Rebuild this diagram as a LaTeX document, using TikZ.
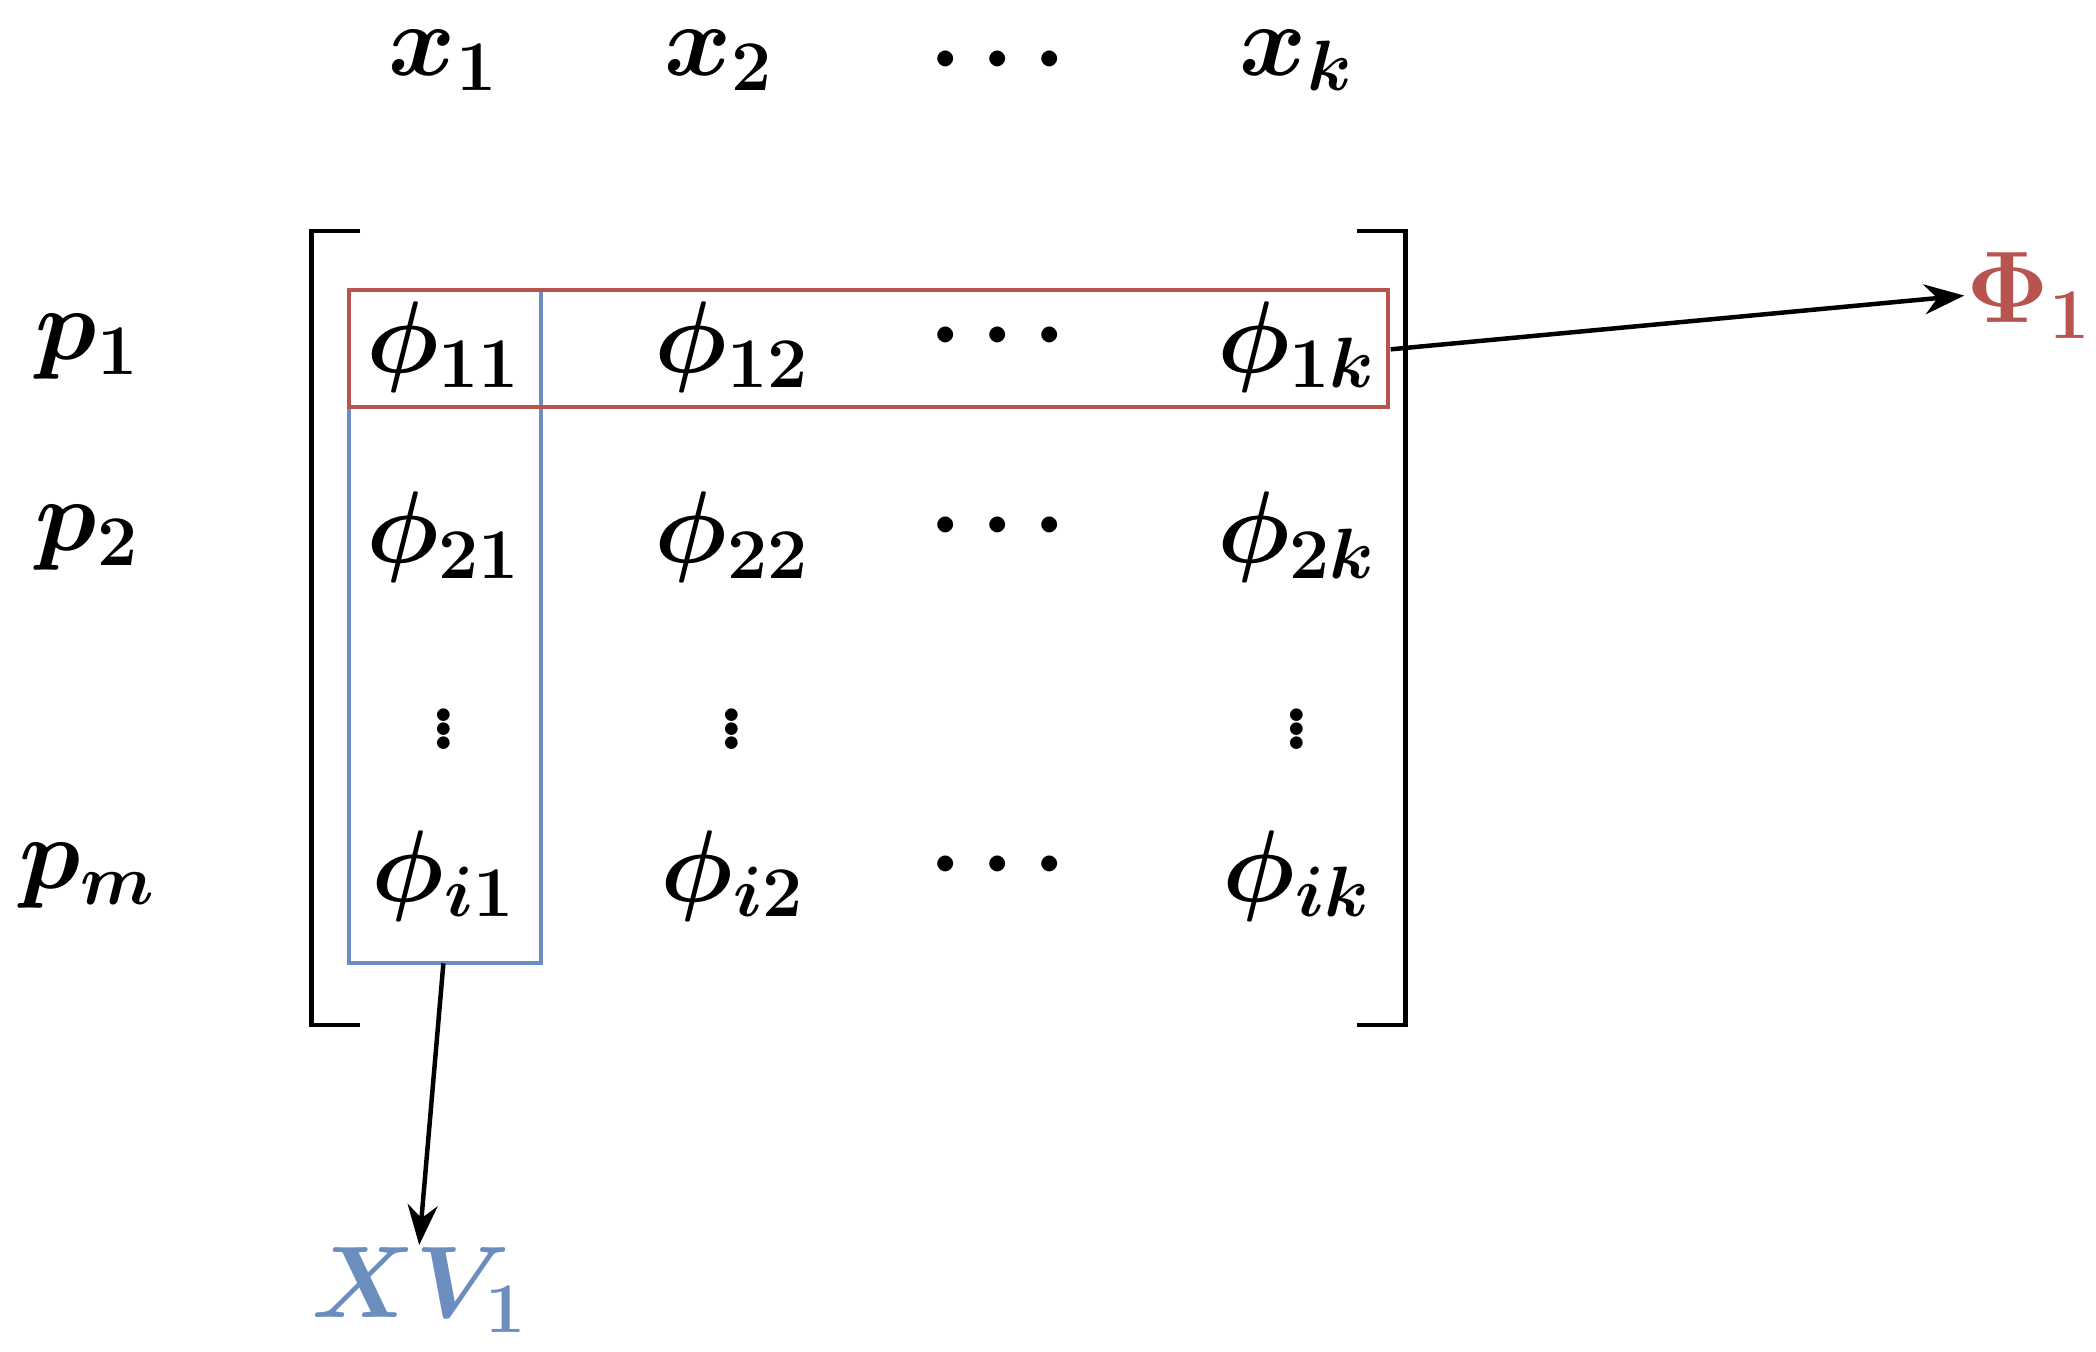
\RequirePackage{fix-cm}
\documentclass[tikz,border=0pt]{standalone}
\usepackage{tikz}
\usetikzlibrary{arrows.meta}
\definecolor{rowred}{HTML}{B85450}
\definecolor{colblue}{HTML}{6C8EBF}
\begin{document}
\begin{tikzpicture}[
                x=0.01344cm, y=-0.01344cm,
                > = {Stealth[length=4mm,width=3mm]}, % arrow head style
                line width=0.45mm,
                font=\fontsize{29}{34}\selectfont\boldmath,
                entry/.style={inner sep=0pt, anchor=center},
                box/.style={line width=0.4mm, inner sep=0pt},
                ]
                \useasboundingbox (0,0) rectangle (1560,1006);
                % column and row heads
                \node[entry] (x1) at (330,45) {$x_1$};
                \node[entry] (x2) at (535,45) {$x_2$};
                \node[entry] (xd) at (743,45) {$\cdots$};
                \node[entry] (xk) at (965,45) {$x_k$};
                \node[entry] (p1) at (65,258) {$p_1$};
                \node[entry] (p2) at (65,400) {$p_2$};
                \node[entry] (pm) at (65,652) {$p_m$};
                % entries
                \node[entry] (e11) at (330,258) {$\phi_{11}$};
                \node[entry] (e12) at (545,258) {$\phi_{12}$};
                \node[entry] (e1d) at (743,250) {$\cdots$};
                \node[entry] (e1k) at (965,258) {$\phi_{1k}$};
                \node[entry] (e21) at (330,400) {$\phi_{21}$};
                \node[entry] (e22) at (545,400) {$\phi_{22}$};
                \node[entry] (e2d) at (743,392) {$\cdots$};
                \node[entry] (e2k) at (965,400) {$\phi_{2k}$};
                \node[entry, font=\fontsize{44}{50}\selectfont\boldmath] (v1) at (330,535) {$\vdots$};
                \node[entry, font=\fontsize{44}{50}\selectfont\boldmath] (v2) at (545,535) {$\vdots$};
                \node[entry, font=\fontsize{44}{50}\selectfont\boldmath] (vk) at (965,535) {$\vdots$};
                \node[entry] (ei1) at (330,652) {$\phi_{i1}$};
                \node[entry] (ei2) at (545,652) {$\phi_{i2}$};
                \node[entry] (eid) at (743,644) {$\cdots$};
                \node[entry] (eik) at (965,652) {$\phi_{ik}$};
                % brackets
                \draw (268,172) -- (232,172) -- (232,763) -- (268,763);
                \draw (1010,172) -- (1046,172) -- (1046,763) -- (1010,763);
                % highlighted column and row
                \node[box, draw=colblue, minimum width=1.92cm, minimum height=6.73cm] (col) at (331.5,466.5) {};
                \node[box, draw=rowred, minimum width=10.39cm, minimum height=1.17cm] (row) at (646.5,259.5) {};
                \node[entry, text=rowred] (Phi) at (1510,220) {$\Phi_1$};
                \node[entry, text=colblue] (XV) at (312,960) {$XV_1$};
                \coordinate (rowend) at (1035,260);
                \coordinate (colend) at (330,717);
                \draw[->] (rowend) -- (Phi.west);
                \draw[->] (colend) -- (XV.north);
\end{tikzpicture}
\end{document}
